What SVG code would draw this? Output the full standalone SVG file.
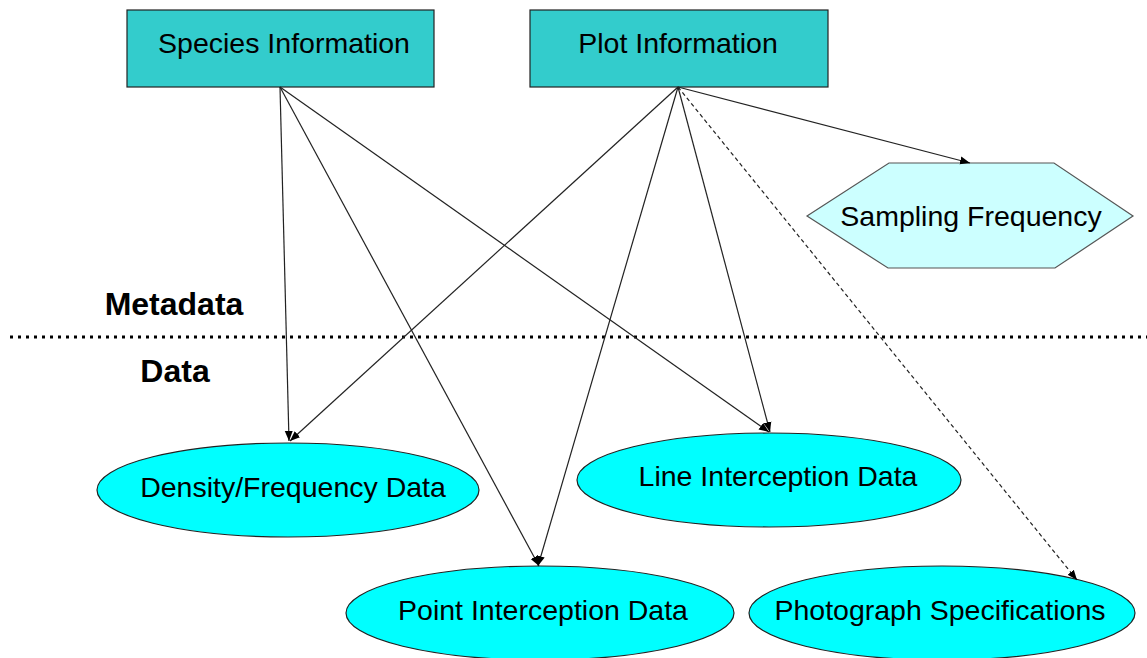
<svg xmlns="http://www.w3.org/2000/svg" width="1147" height="658" viewBox="0 0 1147 658">
<style>
.t{font-family:"Liberation Sans",Arial,sans-serif;font-size:28.5px;fill:#000;text-anchor:middle}
.b{font-family:"Liberation Sans",Arial,sans-serif;font-size:32px;font-weight:bold;fill:#000;text-anchor:middle}
.rect{fill:#33CCCC;stroke:#222;stroke-width:1.2}
.ell{fill:#00FFFF;stroke:#222;stroke-width:1.2}
.hex{fill:#CCFFFF;stroke:#555;stroke-width:1.2}
.c{stroke:#222;stroke-width:1.2;fill:none;marker-end:url(#arr)}
.d{stroke-dasharray:4 3}
</style>
<defs>
<marker id="arr" viewBox="0 0 10 10" refX="10" refY="5" markerWidth="10" markerHeight="10" markerUnits="userSpaceOnUse" orient="auto">
<path d="M0,1 L10,5 L0,9 Z" fill="#000"/>
</marker>
</defs>
<rect width="1147" height="658" fill="#fff"/>
<g id="divider">
<line x1="10" y1="337" x2="1147" y2="337" stroke="#000" stroke-width="3" stroke-dasharray="3 5"/>
<text class="b" x="174" y="315">Metadata</text>
<text class="b" x="175" y="382">Data</text>
</g>
<g id="species">
<rect class="rect" x="127" y="10" width="307" height="77"/>
<text class="t" x="284" y="53">Species Information</text>
</g>
<g id="plot">
<rect class="rect" x="530" y="10" width="298" height="77"/>
<text class="t" x="678" y="53">Plot Information</text>
</g>
<g id="sampling">
<polygon class="hex" points="807,216 889,163 1054,163 1133,216 1055,268 888,268"/>
<text class="t" x="971" y="226">Sampling Frequency</text>
</g>
<g id="density">
<ellipse class="ell" cx="288" cy="490" rx="191" ry="47"/>
<text class="t" x="293" y="497">Density/Frequency Data</text>
</g>
<g id="line">
<ellipse class="ell" cx="769" cy="480" rx="192" ry="47"/>
<text class="t" x="778" y="486">Line Interception Data</text>
</g>
<g id="point">
<ellipse class="ell" cx="540" cy="613" rx="194" ry="47"/>
<text class="t" x="543" y="620">Point Interception Data</text>
</g>
<g id="photo">
<ellipse class="ell" cx="942" cy="613" rx="193" ry="47"/>
<text class="t" x="940" y="620">Photograph Specifications</text>
</g>
<g id="connectors">
<line class="c" x1="280" y1="87" x2="289" y2="441"/>
<line class="c" x1="280" y1="87" x2="539" y2="566"/>
<line class="c" x1="280" y1="87" x2="769" y2="432"/>
<line class="c" x1="678" y1="87" x2="290" y2="441"/>
<line class="c" x1="678" y1="87" x2="538" y2="566"/>
<line class="c" x1="678" y1="87" x2="770" y2="432"/>
<line class="c" x1="678" y1="87" x2="970" y2="163"/>
<line class="c d" x1="678" y1="87" x2="1077" y2="580"/>
</g>
</svg>
